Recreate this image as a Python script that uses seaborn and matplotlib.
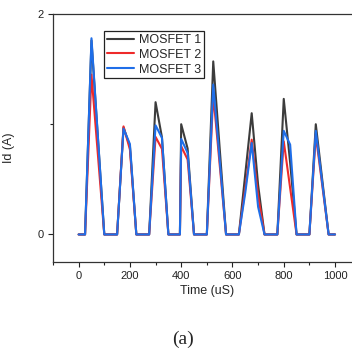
import numpy as np
import pandas as pd
import matplotlib
matplotlib.use("Agg")
import matplotlib.pyplot as plt
import seaborn as sns
from matplotlib.ticker import FixedLocator

# ---- data ----
time_us = [0, 25, 50, 100, 150, 175, 200, 225, 275, 300, 325, 350, 395, 400, 425, 450,
           500, 525, 575, 625, 650, 675, 700, 725, 775, 800, 825, 850, 900, 925, 975, 1000]
mosfet1 = [0, 0, 1.76, 0, 0, 0.97, 0.80, 0, 0, 1.20, 0.88, 0, 0, 1.00, 0.78, 0,
           0, 1.57, 0, 0, 0.55, 1.10, 0.45, 0, 0, 1.23, 0.65, 0, 0, 1.00, 0, 0]
mosfet2 = [0, 0, 1.45, 0, 0, 0.98, 0.77, 0, 0, 0.885, 0.776, 0, 0, 0.80, 0.68, 0,
           0, 1.27, 0, 0, 0.42, 0.86, 0.35, 0, 0, 0.845, 0.42, 0, 0, 0.90, 0, 0]
mosfet3 = [0, 0, 1.78, 0, 0, 0.96, 0.82, 0, 0, 0.99, 0.876, 0, 0, 0.867, 0.74, 0,
           0, 1.36, 0, 0, 0.38, 0.83, 0.25, 0, 0, 0.94, 0.815, 0, 0, 0.94, 0, 0]
series_names = ["MOSFET 1", "MOSFET 2", "MOSFET 3"]
x_ticks = [0, 200, 400, 600, 800, 1000]
y_ticks = [0, 2]

df = pd.DataFrame({
    "Time (uS)": time_us * 3,
    "Id (A)": mosfet1 + mosfet2 + mosfet3,
    "series": [series_names[0]] * len(time_us) + [series_names[1]] * len(time_us)
              + [series_names[2]] * len(time_us),
})

sns.set_style("ticks")
plt.rcParams["font.family"] = ["Liberation Sans", "DejaVu Sans"]

fig = plt.figure(figsize=(3.52, 3.5), dpi=100)
ax = fig.add_axes([0.1506, 0.2514, 0.874, 0.7086])

palette = {"MOSFET 1": "#3c3c3c", "MOSFET 2": "#ee2a2a", "MOSFET 3": "#1f6ee8"}
sns.lineplot(data=df, x="Time (uS)", y="Id (A)", hue="series", palette=palette,
             linewidth=1.5, ax=ax, sort=False, estimator=None)

ax.set_xlim(-100, 1100)
ax.set_ylim(-0.25, 2)
ax.xaxis.set_major_locator(FixedLocator(x_ticks))
ax.xaxis.set_minor_locator(FixedLocator([-100, 100, 300, 500, 700, 900]))
ax.yaxis.set_major_locator(FixedLocator(y_ticks))
ax.yaxis.set_minor_locator(FixedLocator([1]))
ax.tick_params(axis="both", which="major", direction="out", length=3.5, width=0.8,
               labelsize=8, pad=3, colors="#222222")
ax.tick_params(axis="both", which="minor", direction="out", length=2, width=0.8,
               colors="#222222")
for s in ax.spines.values():
    s.set_linewidth(0.9)
    s.set_color("#333333")
    s.set_visible(True)

ax.set_xlabel("Time (uS)", fontsize=9, labelpad=3)
ax.set_ylabel("Id (A)", fontsize=9)
ax.yaxis.set_label_coords(-0.122, 0.46)

leg = ax.legend(loc="upper left", bbox_to_anchor=(0.165, 0.93), fontsize=9,
                frameon=True, fancybox=False, framealpha=1, edgecolor="#222222",
                borderpad=0.22, labelspacing=0.22, handlelength=2.2, handletextpad=0.4,
                borderaxespad=0)
leg.get_frame().set_linewidth(0.9)
leg.set_title(None)

fig.text(0.52, 0.031, "(a)", ha="center", va="center", fontsize=14,
         family=["Liberation Serif", "DejaVu Serif"])

fig.savefig("out.png", dpi=100)
